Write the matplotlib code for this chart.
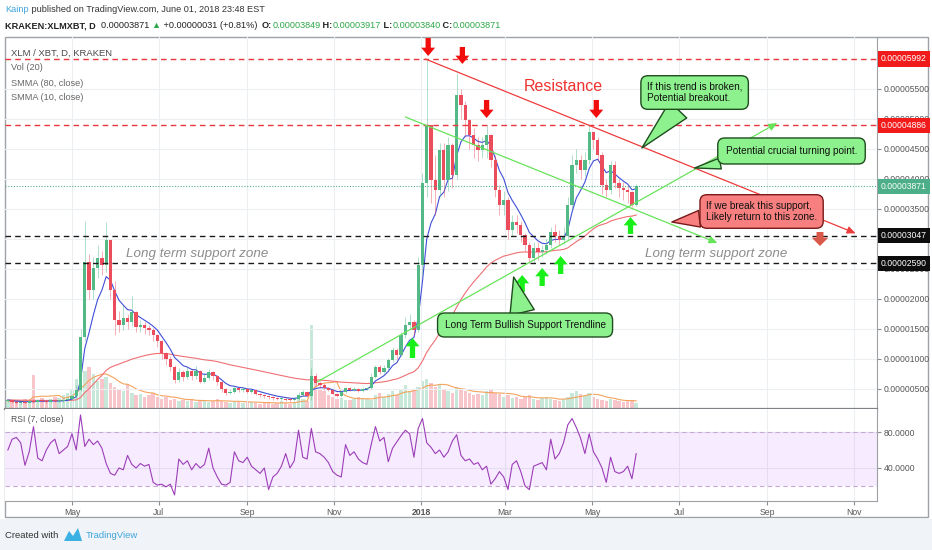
import numpy as np
import pandas as pd
import matplotlib
matplotlib.use("Agg")
import matplotlib.pyplot as plt
from matplotlib.patches import Rectangle, Polygon
from matplotlib.transforms import blended_transform_factory

plt.rcParams['font.family'] = ['Liberation Sans', 'DejaVu Sans']

# ------------------------------------------------------------
# data: 3-day candles XLM/XBT, prices in satoshi (1e-8 BTC)
# ------------------------------------------------------------
START = np.datetime64('2017-03-17')
STEP = 3

close = [317, 284, 267, 284, 267, 300, 284, 317, 300, 284,
         317, 300, 300, 317, 334, 384, 483, 1365, 2613, 2147,
         2513, 2680, 2563, 2979, 2147, 1648, 1565, 1681, 1615, 1781,
         1532, 1565, 1515, 1480, 1400, 1300, 1100, 1000, 866, 650,
         783, 700, 800, 720, 800, 620, 680, 780, 720, 620,
         500, 433, 450, 520, 480, 500, 450, 483, 420, 400,
         380, 367, 350, 334, 340, 325, 317, 330, 400, 450,
         380, 716, 600, 560, 520, 483, 417, 384, 450, 517,
         483, 500, 467, 500, 517, 700, 866, 783, 849, 983,
         1149, 1066, 1399, 1565, 1615, 1482, 2563, 3928, 4893, 3978,
         3811, 4477, 3978, 4560, 4061, 5392, 5226, 4976, 4727, 4560,
         4477, 4560, 4727, 4311, 3811, 3562, 3645, 3146, 3279, 3229,
         3063, 2896, 2680, 2846, 2780, 2813, 2896, 3112, 3046, 2979,
         3046, 3562, 4227, 4311, 4144, 4311, 4776, 4642, 4394, 3895,
         3811, 4227, 3928, 3845, 3811, 3778, 3562, 3871]

high = [340, 330, 300, 300, 300, 320, 330, 340, 330, 310,
        340, 330, 320, 340, 360, 420, 560, 1500, 3300, 2750,
        2700, 2900, 2800, 3280, 2980, 2300, 1800, 1900, 1750, 2050,
        1800, 1650, 1620, 1560, 1520, 1420, 1320, 1120, 1050, 900,
        850, 820, 870, 830, 880, 820, 760, 830, 800, 740,
        640, 520, 500, 560, 540, 540, 520, 520, 500, 440,
        420, 400, 380, 360, 370, 360, 340, 360, 450, 480,
        460, 849, 760, 640, 600, 540, 500, 430, 480, 540,
        540, 530, 520, 530, 540, 760, 900, 900, 900, 1020,
        1200, 1180, 1450, 1700, 1750, 1650, 2700, 4100, 5992, 4900,
        4400, 4600, 4600, 4700, 4600, 5758, 5500, 5300, 5000, 4850,
        4700, 4700, 4886, 4750, 4400, 3900, 3800, 3700, 3400, 3400,
        3300, 3100, 2950, 2950, 2950, 2900, 3000, 3200, 3250, 3150,
        3200, 3700, 4400, 4500, 4400, 4450, 4886, 4800, 4700, 4450,
        4000, 4300, 4300, 4000, 3950, 3900, 3800, 3917]

low = [280, 270, 250, 255, 250, 260, 270, 280, 280, 270,
       275, 285, 285, 290, 310, 330, 370, 470, 1300, 2000,
       2000, 2350, 2400, 2450, 2000, 1400, 1450, 1480, 1500, 1550,
       1450, 1450, 1420, 1400, 1300, 1200, 1000, 900, 800, 600,
       620, 640, 660, 650, 660, 600, 600, 650, 650, 560,
       450, 400, 420, 440, 450, 450, 430, 440, 400, 370,
       350, 340, 320, 310, 310, 300, 290, 300, 320, 380,
       360, 320, 560, 520, 480, 460, 400, 370, 370, 440,
       460, 470, 450, 450, 480, 500, 680, 750, 760, 820,
       950, 1000, 1050, 1350, 1500, 1400, 1450, 2400, 3700, 3600,
       3400, 3700, 3700, 3800, 3850, 4000, 5000, 4700, 4500, 4350,
       4300, 4350, 4350, 4200, 3700, 3400, 3400, 3000, 3050, 3100,
       2950, 2800, 2590, 2600, 2650, 2700, 2750, 2850, 2950, 2900,
       2920, 3000, 3500, 4100, 4000, 4050, 4250, 4500, 4300, 3750,
       3700, 3750, 3850, 3700, 3650, 3600, 3529, 3540]

# volume, millions of XLM per candle
volume_m = [8, 7, 9, 8, 10, 9, 34, 9, 11, 8,
            10, 12, 11, 14, 16, 20, 30, 40, 38, 42,
            35, 28, 30, 32, 26, 22, 20, 18, 25, 16,
            14, 15, 12, 14, 16, 12, 10, 12, 9, 10,
            8, 9, 8, 10, 7, 8, 9, 7, 8, 10,
            8, 7, 6, 8, 7, 6, 8, 7, 6, 5,
            6, 7, 5, 6, 8, 6, 5, 7, 12, 10,
            8, 84, 30, 20, 18, 14, 12, 10, 11, 9,
            9, 10, 12, 11, 10, 9, 14, 16, 12, 15,
            18, 14, 20, 24, 18, 20, 22, 28, 30, 26,
            22, 24, 20, 18, 16, 22, 20, 18, 16, 14,
            15, 14, 18, 20, 16, 15, 12, 14, 11, 12,
            10, 12, 14, 10, 9, 11, 12, 10, 9, 8,
            10, 12, 16, 18, 15, 14, 16, 12, 10, 9,
            8, 10, 9, 8, 7, 8, 9, 6]

rsi = [60, 72, 74, 68, 43, 58, 86, 51, 48, 60,
       68, 72, 56, 60, 64, 78, 60, 99, 64, 72,
       66, 70, 62, 45, 34, 32, 40, 38, 54, 44,
       40, 45, 42, 44, 24, 21, 22, 19, 22, 10,
       50, 44, 48, 38, 45, 40, 44, 62, 40, 30,
       22, 21, 24, 58, 48, 46, 52, 42, 38, 34,
       40, 16, 30, 34, 42, 56, 40, 48, 82, 52,
       50, 84, 58, 56, 52, 46, 36, 32, 30, 66,
       54, 58, 50, 46, 44, 66, 86, 70, 74, 47,
       62, 69, 76, 82, 78, 52, 84, 95, 68, 63,
       56, 60, 52, 58, 70, 77, 54, 48, 50, 44,
       46, 38, 42, 22, 28, 36, 30, 16, 44, 48,
       36, 20, 16, 42, 44, 46, 38, 72, 50, 56,
       68, 88, 95, 85, 73, 56, 78, 58, 50, 40,
       24, 52, 36, 34, 36, 42, 28, 56]

tick_dates = ['2017-05-01', '2017-07-01', '2017-09-01', '2017-11-01', '2018-01-01',
              '2018-03-01', '2018-05-01', '2018-07-01', '2018-09-01', '2018-11-01']
tick_labels = ['May', 'Jul', 'Sep', 'Nov', '2018', 'Mar', 'May', 'Jul', 'Sep', 'Nov']

price_ticks = [500, 1000, 1500, 2000, 2500, 3000, 3500, 4000, 4500, 5000, 5500]
red_levels = [5992, 4886]
black_levels = [3047, 2590]
last_price = 3871

# drawings (date, price)
resistance_line = [('2018-01-04', 5992), ('2018-11-02', 3091)]
falling_support = [('2017-12-21', 5027), ('2018-07-28', 2930)]
rising_support = [('2017-10-20', 617), ('2018-09-08', 4927)]
down_arrows = [('2018-01-06', 6341, 6042), ('2018-01-30', 6192, 5909),
               ('2018-02-16', 5310, 5010), ('2018-05-04', 5310, 5010)]
up_arrows = [('2017-12-26', 1016, 1349), ('2018-03-13', 2114, 2397),
             ('2018-03-27', 2214, 2514), ('2018-04-09', 2414, 2713),
             ('2018-05-28', 3080, 3362)]
callouts = [
    ("If this trend is broken,\nPotential breakout.", ('2018-07-12', 5434), ('2018-06-05', 4511),
     '#8DF28D', '#1E4D1E', 1.7, 0.6),
    ("Potential crucial turning point.", ('2018-09-18', 4461), ('2018-07-12', 4178),
     '#8DF28D', '#1E4D1E', 0.8, 0.8),
    ("If we break this support,\nLikely return to this zone.", ('2018-08-28', 3454), ('2018-06-26', 3279),
     '#F77F7F', '#7A1A1A', 1.2, 0.6),
    ("Long Term Bullish Support Trendline", ('2018-03-15', 1565), ('2018-03-07', 2364),
     '#8DF28D', '#1E4D1E', 1.8, 0.7),
]


def day(d):
    return (np.datetime64(d) - START) / np.timedelta64(1, 'D')


def smma(values, length, step):
    # daily smoothed moving average, applied on 3-day bars
    alpha = 1 - (1 - 1 / length) ** step
    out, s = [], values[0]
    for v in values:
        s = s + alpha * (v - s)
        out.append(s)
    return np.array(out)


# ------------------------------------------------------------
W, H = 932, 550
UP, DOWN = '#53B987', '#EB4D5C'
GRID = '#ECEEF1'
FRAME = '#9EA2A7'
FS = 6.2

x = np.arange(len(close)) * STEP
c = np.array(close, float)
o = np.concatenate([[300], c[:-1]])
hi = np.maximum.reduce([np.array(high, float), o, c])
lo = np.minimum.reduce([np.array(low, float), o, c])
up = c >= o

fig = plt.figure(figsize=(W / 100, H / 100), dpi=100)
fig.patch.set_facecolor('white')

bg = fig.add_axes([0, 0, 1, 1])
bg.set_xlim(0, W)
bg.set_ylim(H, 0)
bg.axis('off')
bg.add_patch(Rectangle((0, 519), W, H - 519, fc='#F0F3F7', ec='none'))
bg.add_patch(Rectangle((5, 37), 923, 480, fc='white', ec=FRAME, lw=1))

main_rect = [5 / W, 1 - 409 / H, 872 / W, 372 / H]
XLIM = (-2, 610)

# volume pane sits under the price pane
axv = fig.add_axes(main_rect)
axv.set_xlim(*XLIM)
axv.set_ylim(0, 372)
axv.axis('off')

ax = fig.add_axes(main_rect)
ax2 = fig.add_axes([5 / W, 1 - 501 / H, 872 / W, 92 / H])

xt = [day(d) for d in tick_dates]
ax.set_ylim(167, 6358)
ax2.set_ylim(3.3, 105.6)

for a in (ax, ax2):
    a.set_xlim(*XLIM)
    a.set_xticks(xt)
    a.grid(True, color=GRID, lw=0.8)
    a.set_axisbelow(True)
    for s in ('top', 'left'):
        a.spines[s].set_visible(False)
    a.spines['right'].set_color(FRAME)
    a.yaxis.tick_right()
    a.tick_params(axis='y', length=3, color='#8A8E93', labelsize=FS,
                  labelcolor='#555555', pad=2)
ax.set_facecolor('none')
ax2.set_facecolor('white')
ax.spines['bottom'].set_color('#7E8287')
ax.spines['bottom'].set_linewidth(1.6)
ax2.spines['bottom'].set_color(FRAME)
ax.tick_params(axis='x', length=0, labelbottom=False)
ax2.tick_params(axis='x', length=3, color='#8A8E93', labelsize=FS,
                labelcolor='#555555', pad=2)
ax2.set_xticklabels(tick_labels)
for lbl in ax2.get_xticklabels():
    if lbl.get_text() == '2018':
        lbl.set_fontweight('bold')

ax.set_yticks(price_ticks)
ax.set_yticklabels([f"{v * 1e-8:.8f}" for v in price_ticks])

vol_colors = [UP if u else DOWN for u in up]
axv.bar(x, volume_m, width=2.4, color=vol_colors, alpha=0.32, lw=0)
vol_ma = pd.Series(volume_m, dtype=float).rolling(7, min_periods=1).mean()
axv.plot(x, vol_ma, color='#F5A35C', lw=0.8)

# moving averages
ax.plot(x, smma(c, 80, STEP), color='#EF6F73', lw=0.8, zorder=3)
ax.plot(x, smma(c, 10, STEP), color='#3F4FD8', lw=0.8, zorder=3)

# candles
colors = np.where(up, UP, DOWN)
ax.vlines(x, lo, hi, colors=colors, lw=0.7, alpha=0.45, zorder=4)
body_h = np.where(np.abs(c - o) < 12, 12, np.abs(c - o))
ax.bar(x, body_h, bottom=np.minimum(o, c), width=2.3, color=colors, lw=0, zorder=5)

# horizontal levels
for lv in red_levels:
    ax.axhline(lv, color='#E8363C', ls=(0, (4, 3)), lw=1, zorder=6)
for lv in black_levels:
    ax.axhline(lv, color='#1A1A1A', ls=(0, (4, 3)), lw=1, zorder=6)
ax.axhline(last_price, color='#52B08A', ls=(0, (1, 1.5)), lw=0.8, zorder=6)


# trend lines
def trend(points, color):
    (d0, p0), (d1, p1) = points
    ax.annotate('', xy=(day(d1), p1), xytext=(day(d0), p0),
                arrowprops=dict(arrowstyle='-|>,head_length=0.5,head_width=0.22',
                                color=color, lw=0.9, shrinkA=0, shrinkB=0),
                zorder=7)


trend(resistance_line, '#EE3B3B')
trend(falling_support, '#67E35A')
trend(rising_support, '#67E35A')

arrow_style = 'simple,head_length=0.6,head_width=1.0,tail_width=0.38'
for d, p0, p1 in down_arrows:
    ax.annotate('', xy=(day(d), p1), xytext=(day(d), p0),
                arrowprops=dict(arrowstyle=arrow_style, fc='#F20D0D', ec='none',
                                shrinkA=0, shrinkB=0, mutation_scale=10), zorder=8)
for d, p0, p1 in up_arrows:
    ax.annotate('', xy=(day(d), p1), xytext=(day(d), p0),
                arrowprops=dict(arrowstyle=arrow_style, fc='#19F019', ec='none',
                                shrinkA=0, shrinkB=0, mutation_scale=10), zorder=8)
ax.annotate('', xy=(day('2018-10-08'), 2880), xytext=(day('2018-10-08'), 3113),
            arrowprops=dict(arrowstyle='simple,head_length=0.6,head_width=1.2,tail_width=0.5',
                            fc='#D9584A', ec='none', shrinkA=0, shrinkB=0,
                            mutation_scale=10), zorder=8)

ax.text(day('2018-04-11'), 5526, 'Resistance', color='#F0322F', fontsize=11.5,
        ha='center', va='center', zorder=8)
for d in ('2017-07-28', '2018-07-27'):
    ax.text(day(d), 2747, 'Long term support zone', color='#8C8C8C', fontsize=9.6,
            style='italic', ha='center', va='center', zorder=8)

for text, box, tip, fc, ec, tw, pad in callouts:
    ax.annotate(text, xy=(day(tip[0]), tip[1]), xytext=(day(box[0]), box[1]),
                ha='center', va='center', multialignment='left', fontsize=7.2,
                color='#111111', zorder=9,
                bbox=dict(boxstyle=f'round,pad={pad},rounding_size=0.7', fc=fc, ec=ec, lw=1),
                arrowprops=dict(arrowstyle=f'wedge,tail_width={tw},shrink_factor=0.5',
                                fc=fc, ec=ec, lw=1, shrinkA=0, shrinkB=0,
                                mutation_scale=10))

# price labels on the scale
tr = blended_transform_factory(ax.transAxes, ax.transData)


def scale_label(v, fc):
    ax.text(1.0 + 4 / 872, v, f"{v * 1e-8:.8f}", transform=tr, ha='left', va='center',
            fontsize=FS, color='white', clip_on=False, zorder=20,
            bbox=dict(boxstyle='square,pad=0.35', fc=fc, ec='none'))


for lv in red_levels:
    scale_label(lv, '#F21B1B')
for lv in black_levels:
    scale_label(lv, '#0D0D0D')
scale_label(last_price, '#4DAE8A')

# RSI pane
ax2.axhspan(20, 80, color='#9915FF', alpha=0.08, lw=0)
ax2.axhline(80, color='#C5A9D2', ls=(0, (4, 3)), lw=0.8)
ax2.axhline(20, color='#C5A9D2', ls=(0, (4, 3)), lw=0.8)
ax2.plot(x, rsi, color='#9C3DB8', lw=0.8)
ax2.set_yticks([40, 80])
ax2.set_yticklabels(['40.0000', '80.0000'])

# pane legends
fig.text(11 / W, 1 - 53 / H, 'XLM / XBT, D, KRAKEN', fontsize=6.8, color='#4A4A4A', va='center')
for i, t in enumerate(['Vol (20)', 'SMMA (80, close)', 'SMMA (10, close)']):
    fig.text(11 / W, 1 - (68 + 15 * i) / H, t, fontsize=6.6, color='#666666', va='center')
fig.text(11 / W, 1 - 420 / H, 'RSI (7, close)', fontsize=6.2, color='#555555', va='center')

# header
renderer = fig.canvas.get_renderer()


def runs(x_px, y_px, parts, size):
    for s, color, weight in parts:
        t = fig.text(x_px / W, 1 - y_px / H, s, fontsize=size, color=color,
                     fontweight=weight, va='center', ha='left')
        x_px += t.get_window_extent(renderer).width


GREEN = '#2EA84A'
runs(5, 10, [('Kainp', '#3DA3DB', 'normal'),
             (' published on TradingView.com, June 01, 2018 23:48 EST', '#333333', 'normal')], 6.6)
runs(5, 26, [('KRAKEN:XLMXBT, D', '#222222', 'bold'), ('  0.00003871 ', '#222222', 'normal'),
             ('▲', GREEN, 'normal'), (' +0.00000031 (+0.81%)  ', '#222222', 'normal'),
             ('O:', '#222222', 'bold'), ('0.00003849', GREEN, 'normal'),
             (' H:', '#222222', 'bold'), ('0.00003917', GREEN, 'normal'),
             (' L:', '#222222', 'bold'), ('0.00003840', GREEN, 'normal'),
             (' C:', '#222222', 'bold'), ('0.00003871', GREEN, 'normal')], 6.6)

# footer
fig.text(5 / W, 1 - 535 / H, 'Created with', fontsize=6.8, color='#333333', va='center')
bg.add_patch(Polygon([(64, 541), (69, 531), (73, 536), (78, 528), (82, 541)],
                     closed=True, fc='#3BB0E3', ec='none'))
fig.text(86 / W, 1 - 535 / H, 'TradingView', fontsize=6.8, color='#3FA6DC', va='center')

fig.savefig('out.png', dpi=100)
